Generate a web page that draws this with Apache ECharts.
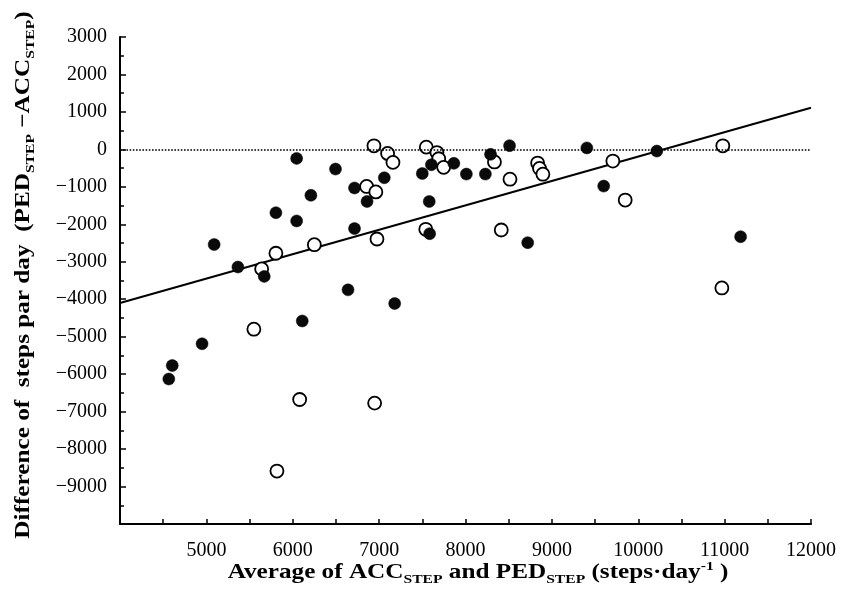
<!DOCTYPE html>
<html>
<head>
<meta charset="utf-8">
<script src="https://cdn.jsdelivr.net/npm/echarts@6/dist/echarts.min.js"></script>
<style>
html,body{margin:0;padding:0;background:#fff;}
#chart{width:841px;height:611px;}
</style>
</head>
<body>
<div id="chart"></div>
<script>
// Filled circles
const filledX = [4565, 4605, 4950, 5090, 5365, 5670, 5805, 6045, 6045, 6110, 6210, 6495, 6640, 6715, 6715, 6860, 7060, 7180, 7500, 7580, 7585, 7605, 7865, 8010, 8230, 8290, 8510, 8720, 9405, 9600, 10215, 11185];
const filledY = [-6130, -5770, -5190, -2540, -3140, -3390, -1690, -240, -1910, -4580, -1225, -525, -3750, -1030, -2115, -1390, -757, -4115, -645, -1390, -2250, -410, -373, -660, -660, -133, 100, -2490, 40, -980, -45, -2330];
// Open circles
const openX = [5550, 5640, 5805, 5817, 6080, 6250, 6855, 6940, 6948, 6962, 6975, 7098, 7160, 7540, 7546, 7669, 7690, 7747, 8335, 8414, 8515, 8835, 8857, 8896, 9706, 9849, 10979, 10968];
const openY = [-4800, -3190, -2773, -8587, -6677, -2544, -990, 96, -6773, -1135, -2392, -107, -347, -2133, 60, -85, -250, -480, -335, -2152, -795, -365, -507, -663, -312, -1352, 96, -3699];
// Regression line end points
const regX = [4000, 12000];
const regY = [-4100, 1110];
// Axis ranges / ticks
const xMin = 4000, xMax = 12000, xStep = 1000;
const yMin = -10000, yMax = 3000, yStep = 1000;

const zip = (a, b) => a.map((v, i) => [v, b[i]]);
const FONT = '"Liberation Serif", "Times New Roman", serif';
const INK = '#000';

const chart = echarts.init(document.getElementById('chart'), null, {renderer: 'canvas'});

const richBase = {
  n: {fontFamily: FONT, fontWeight: 'bold', fontSize: 21, lineHeight: 26, verticalAlign: 'middle', fill: INK, color: INK},
  s: {fontFamily: FONT, fontWeight: 'bold', fontSize: 13, lineHeight: 15, verticalAlign: 'bottom', fill: INK, color: INK},
  p: {fontFamily: FONT, fontWeight: 'bold', fontSize: 13, lineHeight: 15, verticalAlign: 'top', fill: INK, color: INK}
};

chart.setOption({
  animation: false,
  backgroundColor: '#fff',
  grid: {left: 120, right: 30, top: 37, bottom: 87, containLabel: false},
  xAxis: {
    type: 'value', min: xMin, max: xMax, interval: xStep,
    axisLine: {show: true, onZero: false, lineStyle: {color: INK, width: 2}},
    axisTick: {show: true, inside: true, length: 5, lineStyle: {color: INK, width: 1.5}},
    minorTick: {show: true, splitNumber: 2, length: 5, lineStyle: {color: INK, width: 1.5}},
    splitLine: {show: false},
    axisLabel: {fontFamily: FONT, fontSize: 20, color: INK, margin: 17, showMinLabel: false,
      formatter: v => String(v)}
  },
  yAxis: {
    type: 'value', min: yMin, max: yMax, interval: yStep,
    axisLine: {show: true, onZero: false, lineStyle: {color: INK, width: 2}},
    axisTick: {show: true, inside: true, length: 6, lineStyle: {color: INK, width: 1.5}},
    minorTick: {show: true, splitNumber: 2, length: 4, lineStyle: {color: INK, width: 1.5}},
    splitLine: {show: false},
    axisLabel: {
      fontFamily: FONT, fontSize: 20, color: INK, margin: 13, showMinLabel: false,
      formatter: v => (v < 0 ? '\u2212' + Math.abs(v) : String(v))
    }
  },
  series: [
    {
      type: 'line', data: zip(regX, regY), symbol: 'none', z: 1,
      lineStyle: {color: INK, width: 2}, silent: true,
      markLine: {
        silent: true, symbol: ['none', 'none'], label: {show: false},
        lineStyle: {type: 'dotted', color: INK, width: 1.6},
        data: [{yAxis: 0}]
      }
    },
    {
      type: 'scatter', data: zip(openX, openY), symbol: 'circle', symbolSize: 13, z: 2,
      itemStyle: {color: '#fff', borderColor: INK, borderWidth: 1.8, opacity: 1}
    },
    {
      type: 'scatter', data: zip(filledX, filledY), symbol: 'circle', symbolSize: 12, z: 3,
      itemStyle: {color: '#0a0a0a', borderColor: '#000', borderWidth: 0.5, opacity: 1}
    }
  ],
  graphic: [
    {
      type: 'text', x: 478, y: 573, scaleX: 1.2,
      style: {
        text: '{n|Average of ACC}{s|STEP}{n| and PED}{s|STEP}{n| (steps\u00B7day}{p|-1}{n| )}',
        rich: richBase, align: 'center', verticalAlign: 'middle', fill: INK
      }
    },
    {
      type: 'text', x: 24, y: 275, rotation: Math.PI / 2, scaleX: 1.2,
      style: {
        text: '{n|Difference of  steps par day  (PED}{s|STEP}{n| \u2212ACC}{s|STEP}{n|)}',
        rich: richBase, align: 'center', verticalAlign: 'middle', fill: INK
      }
    }
  ]
});
</script>
</body>
</html>
